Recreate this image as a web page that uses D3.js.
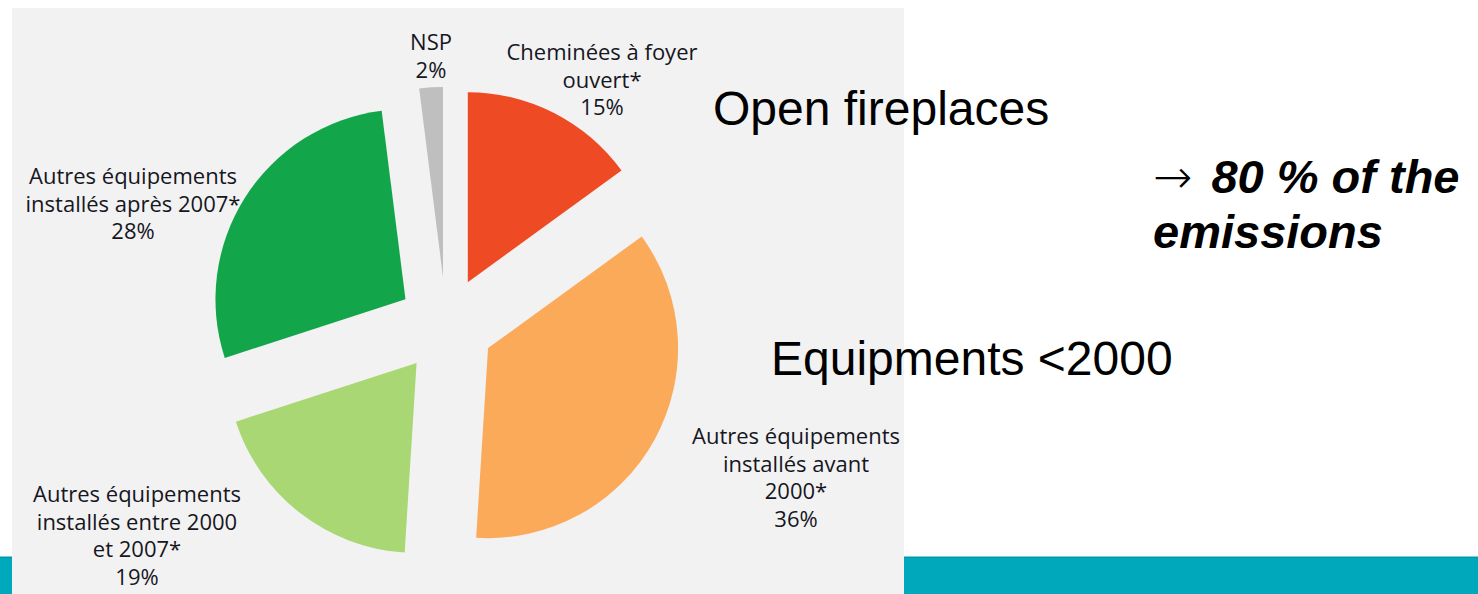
<!DOCTYPE html>
<html>
<head>
<meta charset="utf-8">
<script src="https://cdn.jsdelivr.net/npm/d3@7"></script>
<style>
  html, body { margin: 0; padding: 0; background: #fff; }
  svg { display: block; }
</style>
</head>
<body>
<div id="chart"></div>
<script>
// Répartition des équipements de chauffage au bois (camembert éclaté)

const categories = [
    ["Cheminées à foyer", "ouvert*"],
    ["Autres équipements", "installés avant", "2000*"],
    ["Autres équipements", "installés entre 2000", "et 2007*"],
    ["Autres équipements", "installés après 2007*"],
    ["NSP"]
];
const values = [15, 36, 19, 28, 2];
const colors = ["#EE4B24", "#FBAA5A", "#A8D774", "#13A54A", "#BFBFBF"];

// position des étiquettes (x centre, première ligne de base)
const labelPos = [[602, 60], [796, 444], [137, 502], [133, 184], [431, 50]];

function createChart() {
    const W = 1478, H = 594;
    const cx = 446, cy = 325, radius = 190, explode = 48;
    const lineH = 27.6;

    const svg = d3.select("#chart")
        .append("svg")
        .attr("width", W)
        .attr("height", H);

    // Bandeau bas
    svg.append("rect")
        .attr("x", 0).attr("y", 556)
        .attr("width", W).attr("height", H - 556)
        .attr("fill", "#00A8BC");
    svg.append("rect")
        .attr("x", 0).attr("y", 556)
        .attr("width", W).attr("height", 1)
        .attr("fill", "#80CED8");
    svg.append("rect")
        .attr("x", 0).attr("y", 557)
        .attr("width", W).attr("height", 1)
        .attr("fill", "#0097AA");

    // Fond gris de l'image
    svg.append("rect")
        .attr("x", 12).attr("y", 8)
        .attr("width", 892).attr("height", H - 8)
        .attr("fill", "#F2F2F2");

    const pie = d3.pie().sort(null).value(d => d);
    const arc = d3.arc().innerRadius(0).outerRadius(radius);
    const slices = pie(values);

    const g = svg.append("g")
        .attr("transform", `translate(${cx},${cy})`);

    g.selectAll("path")
        .data(slices)
        .enter()
        .append("path")
        .attr("d", arc)
        .attr("fill", (d, i) => colors[i])
        .attr("transform", d => {
            const mid = (d.startAngle + d.endAngle) / 2;
            return `translate(${explode * Math.sin(mid)},${-explode * Math.cos(mid)})`;
        });

    // Étiquettes
    const labels = svg.selectAll(".lbl")
        .data(slices)
        .enter()
        .append("text")
        .attr("class", "lbl")
        .attr("text-anchor", "middle")
        .style("font-family", "'Open Sans', sans-serif")
        .style("font-size", "22px")
        .attr("fill", "#16161f");

    labels.each(function (d, i) {
        const lines = categories[i].concat([d.data + "%"]);
        const [lx, ly] = labelPos[i];
        d3.select(this).selectAll("tspan")
            .data(lines)
            .enter()
            .append("tspan")
            .attr("x", lx)
            .attr("y", (t, j) => ly + j * lineH)
            .text(t => t);
    });

    // Textes de la diapositive
    const slideFont = "'Liberation Sans', Arial, sans-serif";

    svg.append("text")
        .attr("x", 713).attr("y", 125)
        .style("font-family", slideFont)
        .style("font-size", "48px")
        .text("Open fireplaces");

    svg.append("text")
        .attr("x", 771).attr("y", 375)
        .style("font-family", slideFont)
        .style("font-size", "48px")
        .text("Equipments <2000");

    const note = svg.append("text")
        .attr("x", 1153).attr("y", 193)
        .style("font-family", slideFont)
        .style("font-size", "47px");
    note.append("tspan")
        .style("font-family", "'DejaVu Sans', sans-serif")
        .style("font-weight", "200")
        .text("→");
    note.append("tspan")
        .attr("dx", 19)
        .style("font-weight", "bold")
        .style("font-style", "italic")
        .text("80 % of the");
    note.append("tspan")
        .attr("x", 1153).attr("y", 248)
        .style("font-weight", "bold")
        .style("font-style", "italic")
        .text("emissions");
}

createChart();
</script>
</body>
</html>
